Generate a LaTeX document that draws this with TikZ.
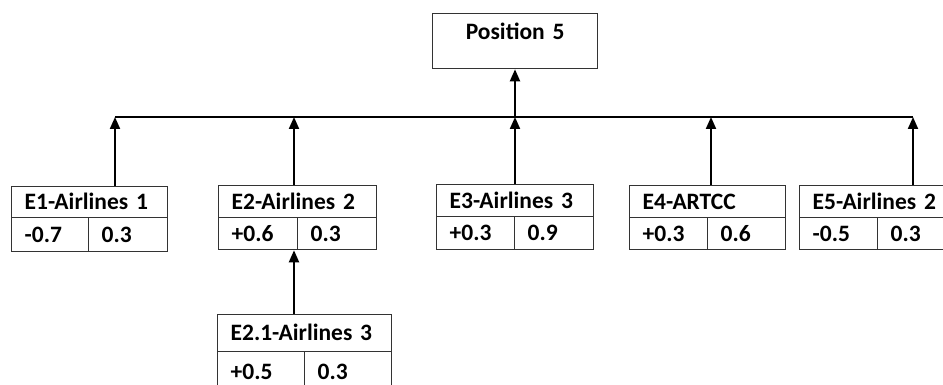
\documentclass[tikz,border=0pt]{standalone}
\usepackage{fontspec}
\setmainfont{Carlito}
\usetikzlibrary{arrows.meta}
\begin{document}
\begin{tikzpicture}[x=1pt,y=-1pt,
  cell/.style={draw=black!80, line width=1.3pt, anchor=north west, inner xsep=13pt, inner ysep=0pt,
    align=left, text height=15pt, text depth=0pt, font=\fontsize{23.5}{26}\selectfont\bfseries},
  conn/.style={line width=2pt, -{Triangle[length=12pt,width=10pt]}},
  busline/.style={line width=2pt}]
\useasboundingbox (0,0) rectangle (943,385);
\fill[white] (0,0) rectangle (943,385);

% top box
\node[cell, align=center, text width=139pt, minimum height=55pt, text depth=19pt] (pos) at (432,13) {Position 5};

% E1
\node[cell, text width=130pt, minimum height=31pt] (e1) at (11,186) {E1-Airlines 1};
\node[cell, text width=51pt, minimum height=34pt] (e1a) at (11,217) {-0.7};
\node[cell, text width=53pt, minimum height=34pt] (e1b) at (88,217) {0.3};
% E2
\node[cell, text width=132pt, minimum height=32pt] (e2) at (218,185) {E2-Airlines 2};
\node[cell, text width=53pt, minimum height=32pt] (e2a) at (218,217) {+0.6};
\node[cell, text width=53pt, minimum height=32pt] (e2b) at (297,217) {0.3};
% E3
\node[cell, text width=131pt, minimum height=32pt] (e3) at (436,184) {E3-Airlines 3};
\node[cell, text width=52pt, minimum height=33pt] (e3a) at (436,216) {+0.3};
\node[cell, text width=53pt, minimum height=33pt] (e3b) at (514,216) {0.9};
% E4
\node[cell, text width=130pt, minimum height=32pt] (e4) at (629,185) {E4-ARTCC};
\node[cell, text width=52pt, minimum height=32pt] (e4a) at (629,217) {+0.3};
\node[cell, text width=52pt, minimum height=32pt] (e4b) at (707,217) {0.6};
% E5
\node[cell, text width=131pt, minimum height=32pt] (e5) at (799,185) {E5-Airlines 2};
\node[cell, text width=52pt, minimum height=32pt] (e5a) at (799,217) {-0.5};
\node[cell, text width=53pt, minimum height=32pt] (e5b) at (877,217) {0.3};
% E2.1
\node[cell, text width=148pt, minimum height=37pt] (e21) at (217,314) {E2.1-Airlines 3};
\node[cell, text width=61pt, minimum height=40pt] (e21a) at (217,351) {+0.5};
\node[cell, text width=61pt, minimum height=40pt] (e21b) at (304,351) {0.3};

% bus
\coordinate (b1) at (115,117);
\coordinate (b2) at (294,117);
\coordinate (b3) at (515,117);
\coordinate (b4) at (711,117);
\coordinate (b5) at (913,117);
\draw[busline] (b1) -- (b5);

\draw[conn] (e1.north -| b1) -- (b1);
\draw[conn] (e2.north -| b2) -- (b2);
\draw[conn] (e3.north -| b3) -- (b3);
\draw[conn] (e4.north -| b4) -- (b4);
\draw[conn] (e5.north -| b5) -- (b5);
\draw[conn] (b3) -- (pos.south -| b3);
\draw[conn] (e21.north -| b2) -- (e2a.south -| b2);
\end{tikzpicture}
\end{document}
